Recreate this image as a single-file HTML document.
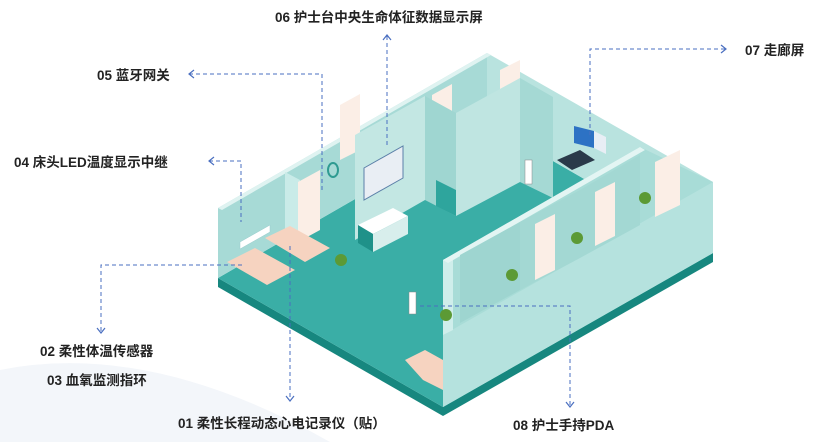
<!DOCTYPE html>
<html><head><meta charset="utf-8"><style>
html,body{margin:0;padding:0;background:#fff;}
svg text{font-family:"Liberation Sans","Noto Sans CJK SC",sans-serif;font-weight:bold;font-size:13.5px;fill:#222;}
</style></head><body>
<svg width="832" height="442" viewBox="0 0 832 442" xmlns="http://www.w3.org/2000/svg">
<path d="M0 370 Q150 340 330 442 L0 442Z" fill="#f3f6fa"/>
<!-- slab -->
<polygon points="218,278 443,407 713,253 713,262 443,416 218,287" fill="#17877f"/>
<!-- floor -->
<polygon points="218,278 443,407 713,253 487,123" fill="#3aaea6"/>
<!-- back walls -->
<polygon points="218,208 487,53 487,123 218,278" fill="#a7dad6"/>
<polygon points="487,53 713,182 713,253 487,123" fill="#b9e3df"/>
<polygon points="218,208 487,53 491,55 222,210" fill="#dff3f1"/>
<!-- left room partition -->
<polygon points="285,172 300,180 300,255 285,247" fill="#c9ebe8"/>
<!-- curtains -->
<polygon points="298,182 320,170 320,230 298,242" fill="#fbeee6"/>
<polygon points="340,105 360,94 360,150 340,160" fill="#fbeee6"/>
<polygon points="432,95 452,84 452,138 432,148" fill="#fbeee6"/>
<polygon points="500,70 520,60 520,110 500,120" fill="#fbeee6"/>
<!-- center room block -->
<polygon points="355,135 425,96 425,200 355,240" fill="#c3e7e3"/>
<polygon points="425,96 456,113 456,216 425,200" fill="#9fd6d1"/>
<polygon points="456,113 520,78 520,182 456,216" fill="#bfe5e1"/>
<polygon points="520,78 553,97 553,198 520,182" fill="#a5d9d4"/>
<polygon points="436,180 456,190 456,216 436,206" fill="#2ea59d"/>
<!-- nurse station -->
<polygon points="358,225 393,208 408,216 373,234" fill="#ffffff"/>
<polygon points="358,225 373,234 373,252 358,243" fill="#1f9189"/>
<polygon points="373,234 408,216 408,234 373,252" fill="#d8eeec"/>
<!-- big screen -->
<polygon points="364,168 403,146 403,178 364,200" fill="#e9eef4" stroke="#5b7fa8" stroke-width="1"/>
<ellipse cx="333" cy="170" rx="5" ry="7" fill="none" stroke="#2f9b92" stroke-width="2"/>
<!-- corridor screen -->
<polygon points="574,126 594,131 594,148 574,143" fill="#2d72c4"/>
<polygon points="594,131 606,137 606,154 594,148" fill="#e8eef5"/>
<!-- bench -->
<polygon points="557,160 580,150 595,160 572,170" fill="#2a3a4a"/>
<!-- right room block -->
<polygon points="443,260 640,147 713,182 713,253 443,407" fill="#a8dcd7"/>
<polygon points="443,335 713,182 713,253 443,407" fill="#b5e2de"/>
<polygon points="443,260 453,255 453,330 443,335" fill="#cfeeeb"/>
<polygon points="443,260 640,147 645,150 448,263" fill="#e3f5f3"/>
<polygon points="460,255 520,222 520,290 460,323" fill="#9ed5d0"/>
<polygon points="520,222 580,190 580,258 520,290" fill="#a3d8d3"/>
<polygon points="580,190 640,155 640,225 580,258" fill="#a3d8d3"/>
<polygon points="535,224 555,214 555,270 535,280" fill="#fbeee6"/>
<polygon points="595,192 615,182 615,236 595,246" fill="#fbeee6"/>
<polygon points="655,162 680,150 680,205 655,217" fill="#fbeee6"/>
<!-- plants -->
<g fill="#5c9a35"><circle cx="341" cy="260" r="6"/><circle cx="446" cy="315" r="6"/><circle cx="512" cy="275" r="6"/><circle cx="577" cy="238" r="6"/><circle cx="645" cy="198" r="6"/></g>
<!-- beds -->
<polygon points="227,262 255,248 295,270 267,285" fill="#f6d3c0"/>
<polygon points="265,238 290,226 330,248 305,262" fill="#f6d3c0"/>
<polygon points="405,360 425,350 443,360 443,390 423,380" fill="#f6d3c0"/>
<polygon points="240,242 270,225 270,232 240,249" fill="#fff" stroke="#9cc" stroke-width="0.5"/>
<!-- people -->
<rect x="525" y="160" width="7" height="24" fill="#fff" stroke="#888" stroke-width="0.5"/>
<rect x="409" y="292" width="7" height="22" fill="#fff" stroke="#888" stroke-width="0.5"/>
<!-- connectors -->
<g stroke="#4a6fc0" stroke-width="1" stroke-dasharray="4,3" fill="none">
<path d="M387 36 V148"/>
<path d="M189 74 H322 V193"/>
<path d="M590 135 V49 H726"/>
<path d="M209 161 H241 V222"/>
<path d="M242 265 H101 V332"/>
<path d="M290 246 V400"/>
<path d="M420 306 H570 V406"/>
</g>
<g stroke="#4a6fc0" stroke-width="1.2" fill="none">
<path d="M383 40 L387 35 L391 40"/>
<path d="M194 70 L189 74 L194 78"/>
<path d="M721 45 L726 49 L721 53"/>
<path d="M214 157 L209 161 L214 165"/>
<path d="M97 328 L101 333 L105 328"/>
<path d="M286 396 L290 401 L294 396"/>
<path d="M566 402 L570 407 L574 402"/>
</g>
<!-- labels -->
<text x="275" y="22">06 护士台中央生命体征数据显示屏</text>
<text x="97" y="80">05 蓝牙网关</text>
<text x="745" y="55">07 走廊屏</text>
<text x="14" y="167">04 床头LED温度显示中继</text>
<text x="40" y="356">02 柔性体温传感器</text>
<text x="47" y="385">03 血氧监测指环</text>
<text x="178" y="428">01 柔性长程动态心电记录仪（贴）</text>
<text x="513" y="430">08 护士手持PDA</text>
</svg>
</body></html>
